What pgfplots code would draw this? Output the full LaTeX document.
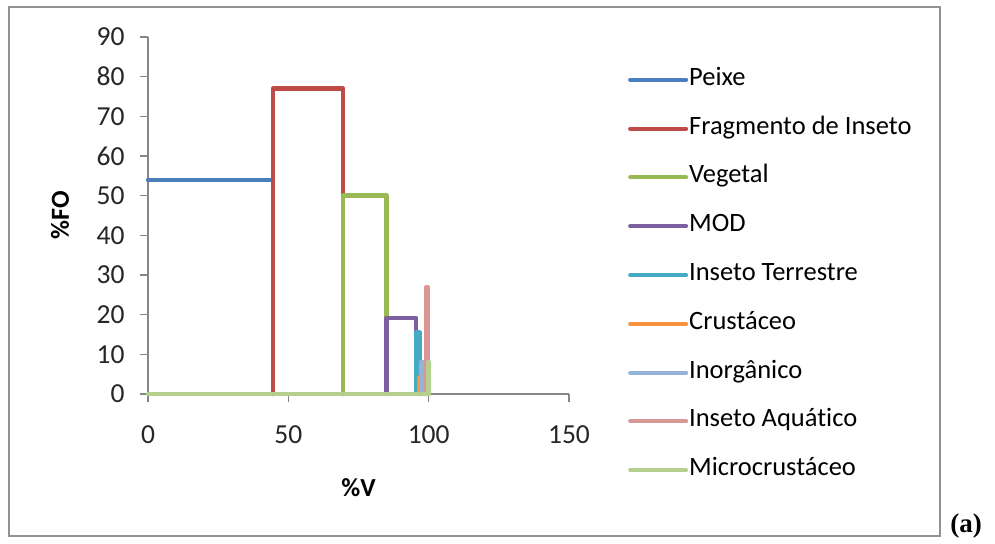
\documentclass[border=0pt]{standalone}
\usepackage{pgfplots}
\pgfplotsset{compat=1.18}
\usepackage{fontspec}
\setmainfont{Carlito}[Ligatures=NoCommon]
\newfontfamily\timesf{Liberation Serif}
\definecolor{cPeixe}{HTML}{4A7EBB}
\definecolor{cFrag}{HTML}{BE4B48}
\definecolor{cVeg}{HTML}{98B954}
\definecolor{cMOD}{HTML}{7D60A0}
\definecolor{cIT}{HTML}{46AAC5}
\definecolor{cCru}{HTML}{F69240}
\definecolor{cInorg}{HTML}{95B3D7}
\definecolor{cIA}{HTML}{D99795}
\definecolor{cMicro}{HTML}{B5D08E}
\definecolor{axgray}{HTML}{868686}
\begin{document}
\begin{tikzpicture}[x=1pt,y=1pt]
\useasboundingbox (0,0) rectangle (995,543);
\draw[axgray!90, line width=2.2pt] (9,7) rectangle (940,536);
\node[font=\timesf\bfseries\fontsize{27}{30}\selectfont, anchor=center] at (966,17) {(a)};
\begin{axis}[
  at={(148pt,149pt)}, anchor=south west,
  scale only axis, width=421pt, height=357pt,
  xmin=0, xmax=150, ymin=0, ymax=90,
  xtick={0,50,100,150}, ytick={0,10,...,90},
  axis x line=bottom, axis y line=left,
  axis line style={-, axgray, line width=1.2pt},
  tick style={axgray, line width=1.2pt},
  tick align=outside,
  major tick length=8pt,
  clip=false,
  font=\fontsize{27}{32}\selectfont,
  /pgf/number format/assume math mode=true,
  ticklabel style={font=\fontsize{27.5}{32}\selectfont, text=black!85},
  xticklabel style={yshift=-20pt},
  yticklabel style={xshift=-12pt},
  xlabel={\bfseries\%V}, ylabel={\bfseries\%FO},
  xlabel style={at={(axis description cs:0.5,0)}, anchor=center, yshift=-94pt, font=\fontsize{26}{30}\selectfont},
  ylabel style={at={(axis description cs:-0.209,0.5)}, anchor=center, font=\fontsize{26}{30}\selectfont},
  every axis plot/.append style={line width=4.5pt, line join=round, line cap=round},
  legend cell align=left,
  legend style={at={(axis description cs:1.14,0.913)}, anchor=north west, draw=none, fill=none,
    font=\fontsize{26.5}{30}\selectfont, row sep=25.8pt, inner sep=0pt,
    nodes={inner sep=0pt, text height=17pt, text depth=6pt}},
  legend image code/.code={\draw[#1, line width=4pt, line cap=round] (0pt,0pt) -- (56pt,0pt) node[right=0pt]{\hspace{2pt}};},
]
\addplot[cPeixe] coordinates {(0,54) (44.5,54) (44.5,0)};
\addlegendentry{Peixe}
\addplot[cFrag] coordinates {(44.5,0) (44.5,77) (69.5,77) (69.5,0)};
\addlegendentry{Fragmento de Inseto}
\addplot[cVeg] coordinates {(69.5,0) (69.5,50) (85,50) (85,0)};
\addlegendentry{Vegetal}
\addplot[cMOD] coordinates {(85,0) (85,19.2) (95.5,19.2) (95.5,0)};
\addlegendentry{MOD}
\addplot[cIT] coordinates {(95.5,0) (95.5,15.5) (96.8,15.5) (96.8,0)};
\addlegendentry{Inseto Terrestre}
\addplot[cCru] coordinates {(96.8,0) (96.8,4.3) (97.3,4.3) (97.3,0)};
\addlegendentry{Crustáceo}
\addplot[cInorg] coordinates {(97.3,0) (97.3,8) (98.9,8) (98.9,0)};
\addlegendentry{Inorgânico}
\addplot[cIA] coordinates {(99.2,0) (99.2,27) (99.6,27) (99.6,0)};
\addlegendentry{Inseto Aqu\'at\kern0pt ico}
\addplot[cMicro] coordinates {(0,0) (99.8,0) (99.8,8) (100,8) (100,0)};
\addlegendentry{Microcrustáceo}
\end{axis}
\end{tikzpicture}
\end{document}
